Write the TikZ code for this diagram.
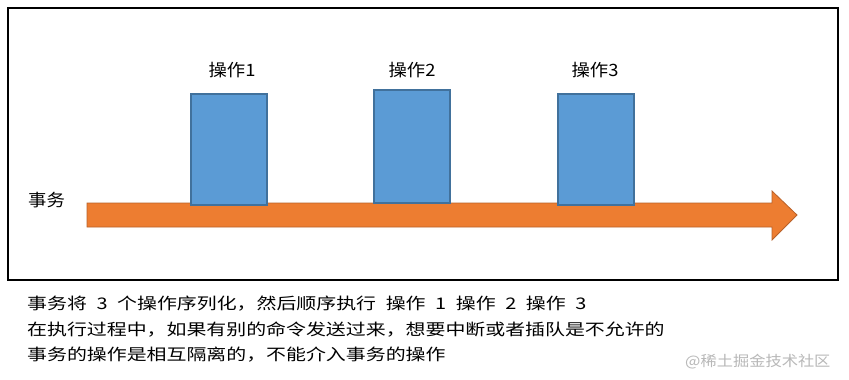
\documentclass[tikz,border=0pt]{standalone}
\usepackage{fontspec}
\newfontfamily\cjkwide[FakeStretch=1.245]{Noto Sans CJK SC}
\newfontfamily\cjkmark[FakeStretch=1.12]{Noto Sans CJK SC}
\newfontfamily\cjklabel[FakeStretch=1.08]{Noto Sans CJK SC}
\newcommand\mygap{\hskip 9.6pt}
\definecolor{boxfill}{HTML}{5B9BD5}
\definecolor{boxedge}{HTML}{41719C}
\definecolor{arrfill}{HTML}{ED7D31}
\definecolor{arredge}{HTML}{B8612A}
\definecolor{markgray}{HTML}{B8B8B8}
\begin{document}
\begin{tikzpicture}[x=1pt,y=-1pt,
  opbox/.style={draw=boxedge, fill=boxfill, line width=1.8pt, minimum width=76pt, minimum height=111pt, inner sep=0pt, anchor=north west},
  oplabel/.style={font=\cjklabel\fontsize{17}{17}\selectfont, inner sep=0pt},
  bodytext/.style={font=\cjkwide\fontsize{16}{16}\selectfont, inner sep=0pt, anchor=west},
  markstyle/.style={font=\cjkmark\fontsize{14.5}{14.5}\selectfont, inner sep=0pt, text=markgray}]
\useasboundingbox (0,0) rectangle (849,380);
\fill[white] (0,0) rectangle (849,380);
% frame
\draw[line width=2pt] (8,8) rectangle (838,280);
% transaction arrow
\draw[fill=arrfill, draw=arredge, line width=0.8pt, line join=miter]
  (87,203) -- (772,203) -- (772,191) -- (797,215) -- (772,240) -- (772,227) -- (87,227) -- cycle;
\node[bodytext, font=\cjklabel\fontsize{17}{17}\selectfont] (tx) at (28,200) {事务};
% operation boxes
\node[opbox] (op1) at (190,93) {};
\node[opbox, minimum height=113pt] (op2) at (373,89) {};
\node[opbox] (op3) at (557,93) {};
\node[oplabel] (l1) at (232,70) {操作1};
\node[oplabel] (l2) at (412,70) {操作2};
\node[oplabel] (l3) at (595,70) {操作3};
% explanation text
\node[bodytext] (t1) at (27,304) {事务将\mygap 3\mygap 个操作序列化，然后顺序执行\mygap 操作\mygap 1\mygap 操作\mygap 2\mygap 操作\mygap 3};
\node[bodytext] (t2) at (27,330) {在执行过程中，如果有别的命令发送过来，想要中断或者插队是不允许的};
\node[bodytext] (t3) at (27,355) {事务的操作是相互隔离的，不能介入事务的操作};
\node[markstyle, anchor=west] (wm) at (685,362) {@稀土掘金技术社区};
\end{tikzpicture}
\end{document}
